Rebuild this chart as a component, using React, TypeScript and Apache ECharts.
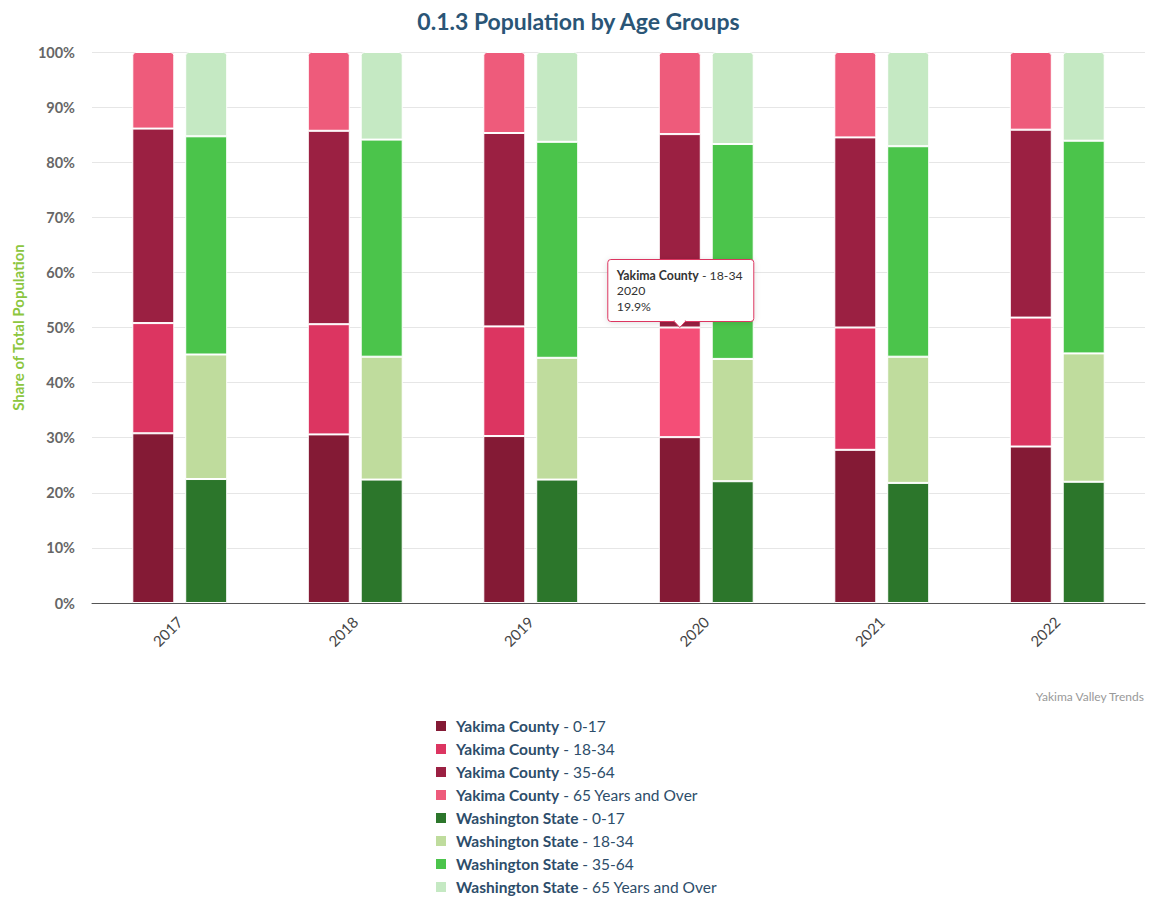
import React, { useEffect, useRef } from "react";
import * as echarts from "echarts";

const years = ["2017", "2018", "2019", "2020", "2021", "2022"];

const yakima017 = [30.8, 30.6, 30.3, 30.1, 27.8, 28.4];
const yakima1834 = [20.0, 20.0, 19.9, 19.9, 22.2, 23.4];
const yakima3564 = [35.3, 35.1, 35.1, 35.1, 34.5, 34.1];
const yakima65 = [13.9, 14.3, 14.7, 14.9, 15.5, 14.1];

const wa017 = [22.5, 22.4, 22.4, 22.1, 21.8, 22.0];
const wa1834 = [22.6, 22.3, 22.1, 22.2, 22.9, 23.3];
const wa3564 = [39.6, 39.4, 39.2, 39.0, 38.2, 38.6];
const wa65 = [15.3, 15.9, 16.3, 16.7, 17.1, 16.1];

const yTicks = [0, 10, 20, 30, 40, 50, 60, 70, 80, 90, 100];

const seriesDefs = [
  { name: "Yakima County - 0-17", stack: "yakima", data: yakima017, color: "#841a35" },
  { name: "Yakima County - 18-34", stack: "yakima", data: yakima1834, color: "#dc3561" },
  { name: "Yakima County - 35-64", stack: "yakima", data: yakima3564, color: "#9b2042" },
  { name: "Yakima County - 65 Years and Over", stack: "yakima", data: yakima65, color: "#ee5b7b" },
  { name: "Washington State - 0-17", stack: "wa", data: wa017, color: "#2c762b" },
  { name: "Washington State - 18-34", stack: "wa", data: wa1834, color: "#bfdc9d" },
  { name: "Washington State - 35-64", stack: "wa", data: wa3564, color: "#4bc44b" },
  { name: "Washington State - 65 Years and Over", stack: "wa", data: wa65, color: "#c5e9c3" },
];

// tooltip target
const tipSeries = 1;
const tipIndex = 3;

const FONT = "Lato, 'Noto Sans', sans-serif";

export default function App() {
  const ref = useRef<HTMLDivElement>(null);

  useEffect(() => {
    if (!ref.current) return;
    const chart = echarts.init(ref.current, null, { renderer: "svg" });
    const option: any = {
      animation: false,
      title: {
        text: "0.1.3 Population by Age Groups",
        left: "center",
        top: 4,
        textStyle: { fontFamily: FONT, fontSize: 23, fontWeight: "bold", color: "#2a5576" },
      },
      grid: { left: 92, right: 12, top: 52, bottom: 297, containLabel: false },
      xAxis: {
        type: "category",
        data: years,
        axisLine: { lineStyle: { color: "#555", width: 1 } },
        axisTick: { show: false },
        axisLabel: {
          rotate: 45,
          margin: 16,
          fontFamily: FONT,
          fontSize: 15,
          color: "#444",
        },
      },
      yAxis: {
        type: "value",
        min: 0,
        max: 100,
        interval: 10,
        name: "Share of Total Population",
        nameLocation: "middle",
        nameRotate: 90,
        nameGap: 67,
        nameTextStyle: { fontFamily: FONT, fontSize: 15, fontWeight: "bold", color: "#8cc63f" },
        axisLine: { show: false },
        axisTick: { show: false },
        splitLine: { lineStyle: { color: "#e6e6e6" } },
        axisLabel: {
          formatter: (v: number) => (yTicks.includes(v) ? v + "%" : ""),
          margin: 17,
          fontFamily: FONT,
          fontSize: 14.5,
          fontWeight: "bold",
          color: "#666",
        },
      },
      legend: {
        orient: "vertical",
        left: 434,
        top: 718,
        height: 200,
        padding: 0,
        itemWidth: 12,
        itemHeight: 12,
        itemGap: 7,
        icon: "rect",
        data: seriesDefs.map((s) => s.name),
        formatter: (name: string) => {
          const i = name.indexOf(" - ");
          return `{b|${name.slice(0, i)}}{n| - ${name.slice(i + 3)}}`;
        },
        textStyle: {
          padding: [0, 0, 0, 4],
          rich: {
            b: { fontFamily: FONT, fontSize: 15.5, fontWeight: "bold", color: "#2d4d6a" },
            n: { fontFamily: FONT, fontSize: 15.5, color: "#2d4d6a" },
          },
        },
      },
      series: seriesDefs.map((s, idx) => ({
        type: "bar",
        name: s.name,
        stack: s.stack,
        data: s.data,
        barWidth: 42,
        barGap: "26%",
        itemStyle: {
          color: s.color,
          borderColor: "#ffffff",
          borderWidth: 1,
          borderRadius: idx === 3 || idx === 7 ? [3, 3, 0, 0] : 0,
        },
        emphasis: idx === tipSeries ? { itemStyle: { color: "#f44e77", borderColor: "#fff" } } : { disabled: true },
      })),
    };
    chart.setOption(option);

    chart.dispatchAction({ type: "highlight", seriesIndex: tipSeries, dataIndex: tipIndex });

    // static tooltip placed from the bar's own layout
    const sd: any = (chart as any).getModel().getSeriesByIndex(tipSeries).getData();
    const lay: any = sd.getItemLayout(tipIndex);
    const cx = lay.x + lay.width / 2;
    const top = Math.min(lay.y, lay.y + lay.height);
    const w = 146;
    const h = 62;
    const bx = cx - w / 2 + 1;
    const by = top - 6 - h;
    const name = seriesDefs[tipSeries].name;
    const i = name.indexOf(" - ");
    const val = seriesDefs[tipSeries].data[tipIndex];
    chart.setOption({
      graphic: [
        {
          type: "rect",
          shape: { x: bx, y: by, width: w, height: h, r: 3 },
          style: { fill: "#ffffff", stroke: "#dc3561", lineWidth: 1, shadowBlur: 6, shadowColor: "rgba(0,0,0,0.12)", shadowOffsetY: 1 },
          z: 100,
        },
        {
          type: "polygon",
          shape: { points: [[cx - 6, by + h - 0.5], [cx + 6, by + h - 0.5], [cx, by + h + 6]] },
          style: { fill: "#ffffff", stroke: "#dc3561", lineWidth: 1 },
          z: 100,
        },
        {
          type: "rect",
          shape: { x: cx - 5, y: by + h - 2, width: 10, height: 2.5 },
          style: { fill: "#ffffff" },
          z: 101,
        },
        {
          type: "text",
          x: bx + 9,
          y: by + 8,
          z: 102,
          style: {
            text: `{b|${name.slice(0, i)}}{n| - ${name.slice(i + 3)}}\n{n|${years[tipIndex]}}\n{n|${val.toFixed(1)}%}`,
            rich: {
              b: { fontFamily: FONT, fontSize: 12.3, fontWeight: "bold", fill: "#333", lineHeight: 15.5 },
              n: { fontFamily: FONT, fontSize: 12.3, fill: "#333", lineHeight: 15.5 },
            },
          },
        },
        {
          type: "text",
          right: 12,
          top: 690,
          style: { text: "Yakima Valley Trends", fontFamily: FONT, fontSize: 12, fill: "#999" },
        },
      ],
    });

    return () => chart.dispose();
  }, []);

  return (
    <div
      ref={ref}
      style={{ position: "absolute", left: 0, top: 0, width: 1157, height: 900, background: "#fff" }}
    />
  );
}
